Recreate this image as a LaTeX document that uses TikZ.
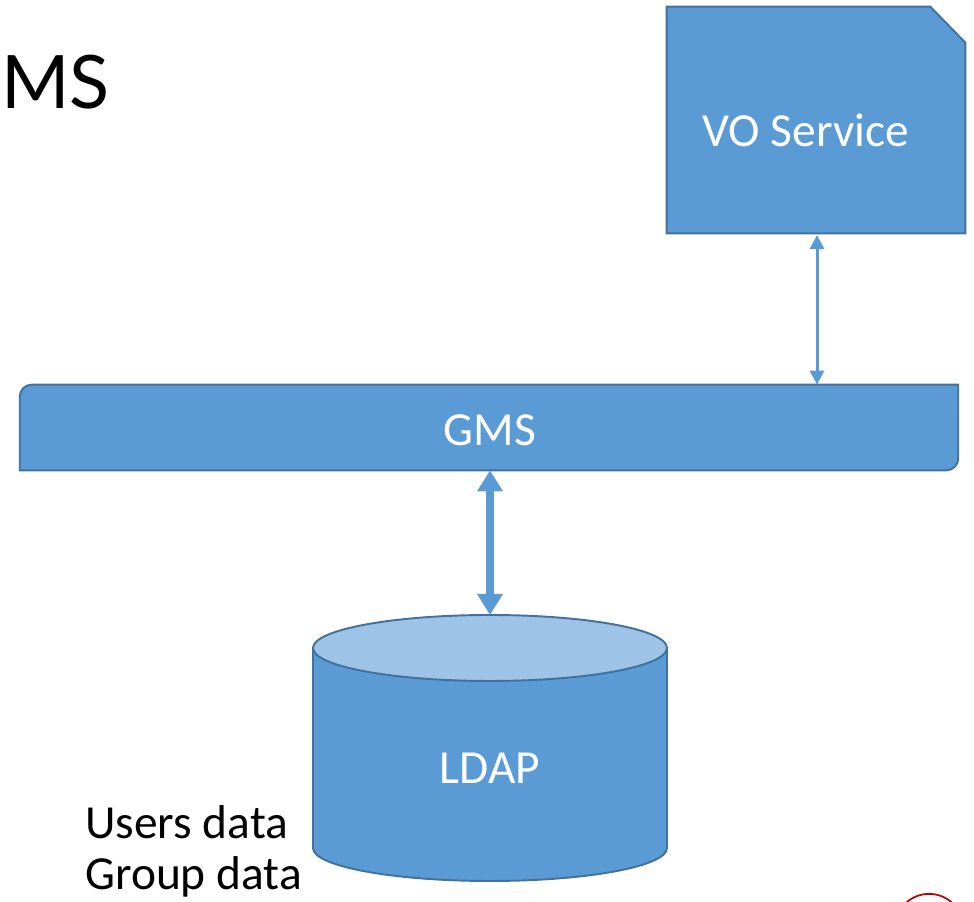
\documentclass[tikz,border=0pt]{standalone}
\usepackage{fontspec}
\setmainfont{Carlito}
\newfontfamily\titlefont{Lato}
\usetikzlibrary{positioning,calc,arrows.meta}
\definecolor{boxBlue}{HTML}{5B9BD5}
\definecolor{boxEdge}{HTML}{41719C}
\definecolor{topBlue}{HTML}{9DC3E6}
\definecolor{markRed}{HTML}{C00000}
\tikzset{
    box/.style={fill=boxBlue, draw=boxEdge, line width=1.1pt},
    label/.style={text=white, font=\fontsize{27}{32}\selectfont},
    thinLink/.style={draw=boxBlue, line width=1.7pt,
        {Triangle[width=8pt,length=8pt]}-{Triangle[width=8pt,length=8pt]}},
    thickLink/.style={draw=boxBlue, line width=4.5pt,
        {Triangle[width=14pt,length=12pt]}-{Triangle[width=14pt,length=12pt]}},
    note/.style={font=\fontsize{27}{32}\selectfont, inner sep=0pt, anchor=west}
}
\begin{document}
\begin{tikzpicture}[x=0.02cm,y=0.02cm]
    \useasboundingbox (0,0) rectangle (974,902);
    % heading, cut at the left edge
    \node[inner sep=0pt, anchor=west, font=\titlefont\fontsize{42}{48}\selectfont] (title) at (1,820) {MS};
    % VO service box, one corner cut off
    \node[minimum width=5.96cm, minimum height=4.52cm, inner sep=0pt] (vo) at (816,782) {};
    \filldraw[box] (vo.south west) -- (vo.south east) -- ($(vo.north east)+(0,-36)$)
        -- ($(vo.north east)+(-35,0)$) -- (vo.north west) -- cycle;
    \node[label] (voText) at (806,772) {VO Service};
    % GMS bar, two rounded corners
    \node[minimum width=18.76cm, minimum height=1.7cm, inner sep=0pt] (gms) at (489,474.5) {};
    \filldraw[box]
        (gms.south west) -- ($(gms.south east)+(-12,0)$) arc(-90:0:12)
        -- (gms.north east) -- ($(gms.north west)+(12,0)$) arc(90:180:12) -- cycle;
    \node[label] (gmsText) at (490,472) {GMS};
    % LDAP store
    \coordinate (ldapTop) at (490,287);
    \filldraw[box] (313,254) -- (313,54) arc(180:360:177 and 33) -- (667,254) -- cycle;
    \filldraw[box, fill=topBlue] (490,254) ellipse (177 and 33);
    \node[label] (ldap) at (490,134) {LDAP};
    % links
    \coordinate (voLink) at (817,667);
    \draw[thinLink] (voLink) -- (voLink |- gms.north);
    \draw[thickLink] (gms.south -| ldapTop) -- (ldapTop);
    % stored data
    \node[note] (users) at (85,80) {Users data};
    \node[note, below=0pt of users.south west, anchor=north west, yshift=-10] (groups) {Group data};
    % red pen mark
    \draw[markRed, line width=1pt] (903,-4) arc(140:40:34);
\end{tikzpicture}
\end{document}
